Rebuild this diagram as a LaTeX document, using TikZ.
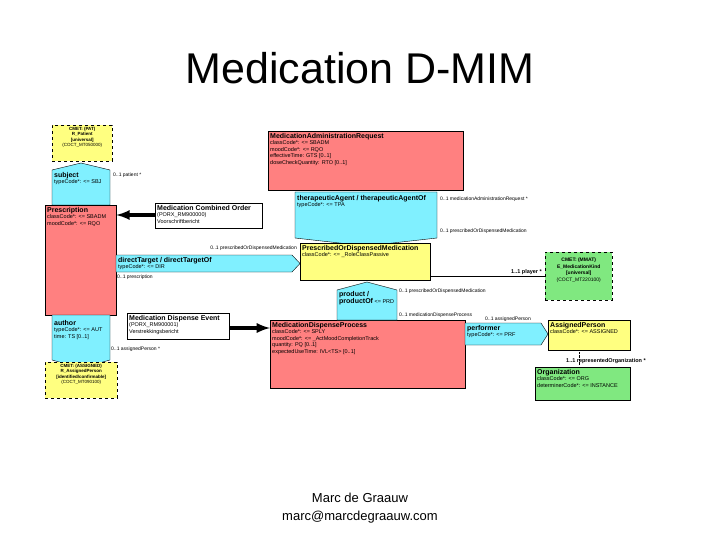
\documentclass[tikz,border=0pt]{standalone}
\usepackage{fontspec}
\setmainfont{Liberation Sans}
\usetikzlibrary{positioning}

\definecolor{actred}{RGB}{255,128,128}
\definecolor{relcyan}{RGB}{128,240,255}
\definecolor{roleyel}{RGB}{255,255,128}
\definecolor{entgreen}{RGB}{128,232,128}

\newcommand{\hd}[1]{{\fontsize{7}{8}\selectfont\bfseries #1}}

\tikzset{
  box/.style={draw, anchor=north west, inner sep=0pt},
  cmet/.style={box, dashed},
  txt/.style={anchor=north west, align=left, font=\fontsize{5.5}{6.5}\selectfont, inner sep=2pt},
  ctxt/.style={anchor=north, align=center, font=\fontsize{5}{6.5}\selectfont, inner sep=2pt},
  lbl/.style={font=\fontsize{5}{6}\selectfont, inner sep=1pt},
  fat/.style={line width=3.5pt, -latex},
}

\begin{document}
\begin{tikzpicture}[x=1pt,y=-1pt]
    \useasboundingbox (0,0) rectangle (720,540);

    % Title
    \node[font=\fontsize{43}{47}\selectfont] (title) at (360,68) {Medication D-MIM};

    % Acts
    \node[box, fill=actred, minimum width=195, minimum height=59] (mar) at (268,131) {};
    \node[txt] at (mar.north west) {\hd{MedicationAdministrationRequest}\\classCode*: <= SBADM\\moodCode*: <= RQO\\effectiveTime: GTS [0..1]\\doseCheckQuantity: RTO [0..1]};

    \node[box, fill=actred, minimum width=71, minimum height=110] (presc) at (45,205) {};
    \node[txt] at (presc.north west) {\hd{Prescription}\\classCode*: <= SBADM\\moodCode*: <= RQO};

    \node[box, fill=actred, minimum width=195, minimum height=68] (mdp) at (270,320) {};
    \node[txt] at (mdp.north west) {\hd{MedicationDispenseProcess}\\classCode*: <= SPLY\\moodCode*: <= \_ActMoodCompletionTrack\\quantity: PQ [0..1]\\expectedUseTime: IVL<TS> [0..1]};

    % Act relationships / participations
    \draw[fill=relcyan] (295,192) -- (437,192) -- (437,238) -- (366,246) -- (295,238) -- cycle;
    \node[txt] (ther) at (295,193) {\hd{therapeuticAgent / therapeuticAgentOf}\\typeCode*: <= TPA};

    \draw[fill=relcyan] (52,170) -- (81,163) -- (110,170) -- (110,205) -- (52,205) -- cycle;
    \node[txt] (subj) at (52,170) {\hd{subject}\\typeCode*: <= SBJ};

    \draw[fill=relcyan] (116,255) -- (292,255) -- (300,263.5) -- (292,272) -- (116,272) -- cycle;
    \node[txt] (dt) at (116,255) {\hd{directTarget / directTargetOf}\\typeCode*: <= DIR};

    \draw[fill=relcyan] (337,290) -- (367,282) -- (397,290) -- (397,320) -- (337,320) -- cycle;
    \node[txt] (prod) at (337,289) {\hd{product /}\\\hd{productOf}  <= PRD};

    \draw[fill=relcyan] (52,315) -- (110,315) -- (110,360) -- (81,368) -- (52,360) -- cycle;
    \node[txt] (auth) at (52,318) {\hd{author}\\typeCode*: <= AUT\\time: TS [0..1]};

    \draw[fill=relcyan] (465,323) -- (541,323) -- (548,334) -- (541,345) -- (465,345) -- cycle;
    \node[txt] (perf) at (465,323) {\hd{performer}\\typeCode*: <= PRF};

    % Roles
    \node[box, fill=roleyel, minimum width=130, minimum height=37] (podm) at (300,243) {};
    \node[txt] at (podm.north west) {\hd{PrescribedOrDispensedMedication}\\classCode*: <= \_RoleClassPassive};

    \node[box, fill=roleyel, minimum width=82, minimum height=30] (ap) at (548,320) {};
    \node[txt] at (ap.north west) {\hd{AssignedPerson}\\classCode*: <= ASSIGNED};

    % CMETs
    \node[cmet, fill=roleyel, minimum width=60, minimum height=36] (pat) at (52,125) {};
    \node[ctxt, font=\fontsize{4.5}{5.5}\selectfont] at (pat.north) {\textbf{CMET: (PAT)}\\\textbf{R\_Patient}\\\textbf{[universal]}\\(COCT\_MT050000)};

    \node[cmet, fill=roleyel, minimum width=72, minimum height=36] (asp) at (45,362) {};
    \node[ctxt, font=\fontsize{4.5}{5.5}\selectfont] at (asp.north) {\textbf{CMET: (ASSIGNED)}\\\textbf{R\_AssignedPerson}\\\textbf{[identified/confirmable]}\\(COCT\_MT090100)};

    \node[cmet, fill=entgreen, minimum width=67, minimum height=48] (med) at (545,252) {};
    \node[ctxt] at ([yshift=-4]med.north) {\textbf{CMET: (MMAT)}\\\textbf{E\_MedicationKind}\\\textbf{[universal]}\\(COCT\_MT220100)};

    % Entity
    \node[box, fill=entgreen, minimum width=95, minimum height=33] (org) at (535,367) {};
    \node[txt] at (org.north west) {\hd{Organization}\\classCode*: <= ORG\\determinerCode*: <= INSTANCE};

    % Choice boxes
    \node[box, fill=white, line width=1.2pt, minimum width=107, minimum height=25] (mco) at (155,203) {};
    \node[txt] at (mco.north west) {\hd{Medication Combined Order}\\(PORX\_RM900000)\\Voorschriftbericht};

    \node[box, fill=white, line width=1.2pt, minimum width=102, minimum height=26] (mde) at (127,313) {};
    \node[txt] at (mde.north west) {\hd{Medication Dispense Event}\\(PORX\_RM900001)\\Verstrekkingsbericht};

    % Connectors
    \draw[fat] (mco.west |- 0,215) -- (presc.east |- 0,215);
    \draw[fat] (mde.east |- 0,328) -- (mdp.west |- 0,328);
    \draw (podm.east |- 0,276) -- (med.west |- 0,276);
    \draw[densely dotted] (ap.south) ++(-10,0) -- ++(0,15);

    % Labels
    \node[lbl, anchor=west] at (112,175) {0..1 patient *};
    \node[lbl, anchor=east] at (298,248) {0..1 prescribedOrDispensedMedication};
    \node[lbl, anchor=west] at (116,277) {0..1 prescription};
    \node[lbl, anchor=west] at (110,349) {0..1 assignedPerson *};
    \node[lbl, anchor=west] at (439,199) {0..1 medicationAdministrationRequest *};
    \node[lbl, anchor=west] at (439,231) {0..1 prescribedOrDispensedMedication};
    \node[lbl, anchor=east, font=\fontsize{5.5}{6}\selectfont\bfseries] at (543,272) {1..1 player *};
    \node[lbl, anchor=west] at (398,291) {0..1 prescribedOrDispensedMedication};
    \node[lbl, anchor=west] at (398,315) {0..1 medicationDispenseProcess};
    \node[lbl, anchor=west] at (484,319) {0..1 assignedPerson};
    \node[lbl, anchor=west, font=\fontsize{5.5}{6}\selectfont\bfseries] at (565,361) {1..1 representedOrganization *};

    % Footer
    \node[font=\fontsize{13}{15}\selectfont] (name) at (360,498) {Marc de Graauw};
    \node[font=\fontsize{13}{15}\selectfont, below=1pt of name] (mail) {marc@marcdegraauw.com};
\end{tikzpicture}
\end{document}
